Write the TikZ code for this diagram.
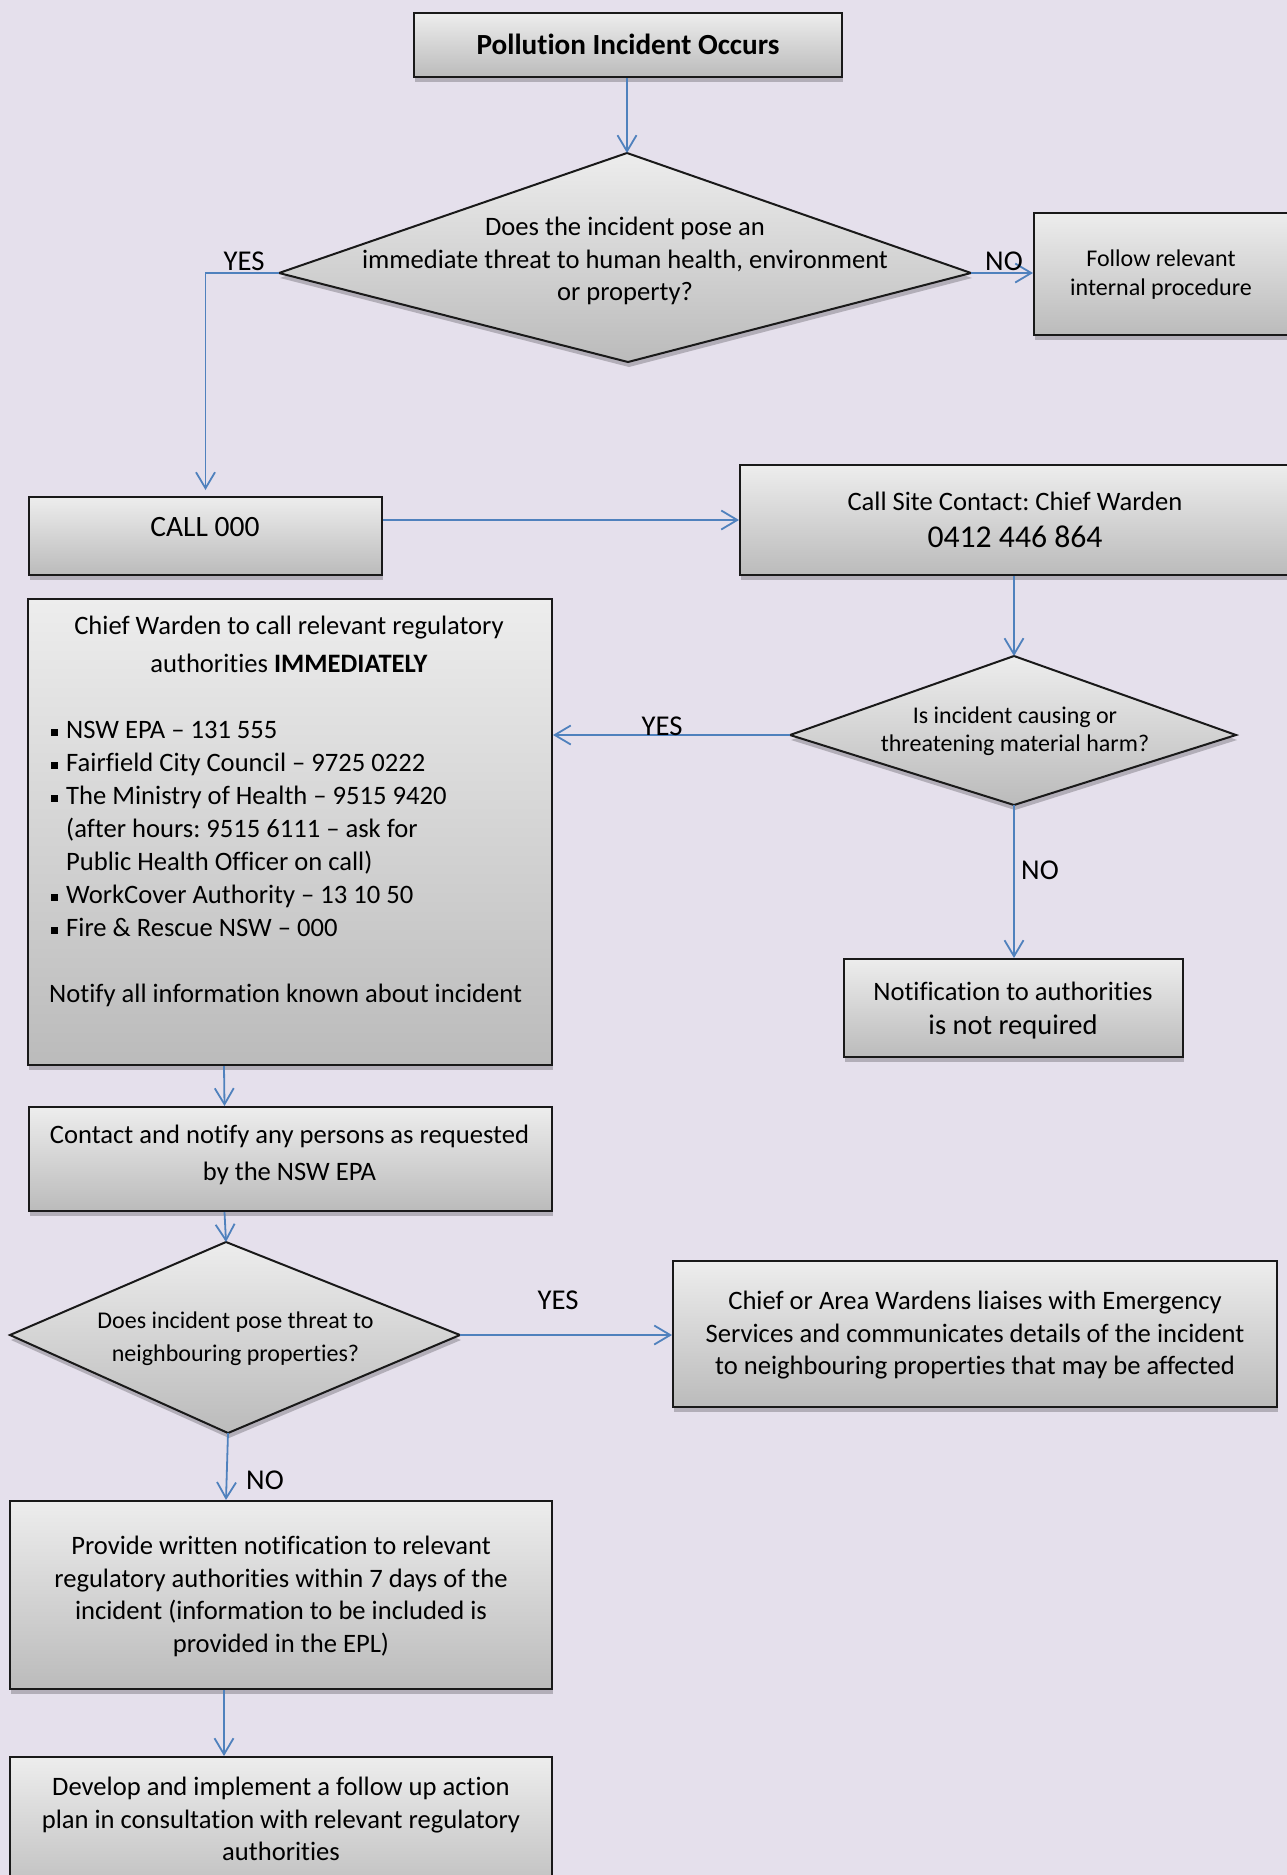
\documentclass[tikz,border=0pt]{standalone}
\usepackage{fontspec}
\setmainfont{Carlito}[Ligatures={NoCommon}]
\usetikzlibrary{arrows.meta,shadows}
\definecolor{bg}{HTML}{E5E0EC}
\definecolor{arrowblue}{HTML}{4F81BD}
\definecolor{gtop}{HTML}{EDEDED}
\definecolor{gbot}{HTML}{BBBBBB}
\newcommand\fs[2]{\fontsize{#1pt}{#2pt}\selectfont}
\newcommand\bul{\makebox[17pt][l]{\hspace{1.5pt}\raisebox{3pt}{\rule{7pt}{7pt}}}}
\newcommand\ind{\hspace*{17pt}}
\frenchspacing
\begin{document}
\begin{tikzpicture}[x=1pt,y=-1pt,
  box/.style={draw=black!90, line width=2pt, top color=gtop, bottom color=gbot,
    drop shadow={shadow xshift=1pt, shadow yshift=-5pt, opacity=0.22, fill=black}, inner sep=0pt},
  dia/.style={draw=black!90, line width=2pt, line join=miter, top color=gtop, bottom color=gbot,
    drop shadow={shadow xshift=1pt, shadow yshift=-5pt, opacity=0.22, fill=black}},
  txt/.style={inner sep=0pt, align=center, font=\fs{26.6}{32.5}},
  lab/.style={inner sep=0pt, font=\fs{28.7}{34}},
  arr/.style={draw=arrowblue, line width=1.8pt, -{Straight Barb[length=16pt,width=19pt]}},
]
\path[use as bounding box, fill=bg] (0,0) rectangle (1287,1875);
\clip (0,0) rectangle (1287,1875);

% top box
\node[box, minimum width=428pt, minimum height=64pt] (top) at (628,45) {};
\node[txt, font=\bfseries\fs{29.2}{35}] (topt) at (628,44) {Pollution Incident Occurs};

% diamond 1
\coordinate (d1n) at (627,153);
\coordinate (d1e) at (971,273);
\coordinate (d1s) at (628,362);
\coordinate (d1w) at (279,273);
\path[dia] (d1n) -- (d1e) -- (d1s) -- (d1w) -- cycle;
\node[txt] (d1t) at (625,261) {Does the incident pose an\\immediate threat to human health, environment\\or property?};

% follow box
\node[box, minimum width=261pt, minimum height=122pt] (follow) at (1164.5,274) {};
\node[txt, font=\fs{24}{29}] (followt) at (1161,274.5) {Follow relevant\\internal procedure};

% call 000
\node[box, minimum width=353pt, minimum height=78pt] (call) at (205.5,536) {};
\node[txt, font=\fs{29.5}{36}] (callt) at (205,527) {CALL 000};

% site contact
\node[box, minimum width=555pt, minimum height=110pt] (site) at (1017.5,520) {};
\node[txt] (sitet1) at (1015,501.5) {Call Site Contact: Chief Warden};
\node[txt, font=\fs{31.7}{38}] (sitet2) at (1015,537) {0412 446 864};

% chief warden box
\node[box, minimum width=524pt, minimum height=466pt] (chief) at (290,832) {};
\node[txt, font=\fs{26.6}{38}] (chieft) at (289,644) {Chief Warden to call relevant regulatory\\authorities \textbf{IMMEDIATELY}};
\node[txt, align=left, anchor=west, font=\fs{26.6}{33}] (chiefl) at (49,829) {%
\bul NSW EPA – 131 555\\
\bul Fairfield City Council – 9725 0222\\
\bul The Ministry of Health – 9515 9420\\
\ind (after hours: 9515 6111 – ask for\\
\ind Public Health Officer on call)\\
\bul WorkCover Authority – 13 10 50\\
\bul Fire \& Rescue NSW – 000};
\node[txt, anchor=west] (chiefn) at (49,995) {Notify all information known about incident};

% diamond 2
\coordinate (d2n) at (1014,656);
\coordinate (d2e) at (1236,735);
\coordinate (d2s) at (1014,805);
\coordinate (d2w) at (790,735);
\path[dia] (d2n) -- (d2e) -- (d2s) -- (d2w) -- cycle;
\node[txt, font=\fs{24}{28}] (d2t) at (1015,731) {Is incident causing or\\threatening material harm?};

% notification box
\node[box, minimum width=339pt, minimum height=98pt] (notif) at (1013.5,1008) {};
\node[txt] (notift1) at (1013,991.5) {Notification to authorities};
\node[txt, font=\fs{28.5}{34}] (notift2) at (1013,1027) {is not required};

% contact box
\node[box, minimum width=523pt, minimum height=104pt] (contact) at (290.5,1159) {};
\node[txt, font=\fs{26.6}{37}] (contactt) at (289.5,1154.5) {Contact and notify any persons as requested\\by the NSW EPA};

% diamond 3
\coordinate (d3n) at (226,1242);
\coordinate (d3e) at (460,1335);
\coordinate (d3s) at (228,1433);
\coordinate (d3w) at (10,1335);
\path[dia] (d3n) -- (d3e) -- (d3s) -- (d3w) -- cycle;
\node[txt, font=\fs{24}{33}] (d3t) at (235.5,1338.5) {Does incident pose threat to\\neighbouring properties?};

% area box
\node[box, minimum width=604pt, minimum height=146pt] (area) at (975,1334) {};
\node[txt] (areat) at (975,1335.5) {Chief or Area Wardens liaises with Emergency\\Services and communicates details of the incident\\to neighbouring properties that may be affected};

% provide box
\node[box, minimum width=542pt, minimum height=188pt] (provide) at (281,1595) {};
\node[txt] (providet) at (281,1596.5) {Provide written notification to relevant\\regulatory authorities within 7 days of the\\incident (information to be included is\\provided in the EPL)};

% develop box
\node[box, minimum width=542pt, minimum height=148pt] (develop) at (281,1831) {};
\node[txt] (developt) at (281,1819) {Develop and implement a follow up action\\plan in consultation with relevant regulatory\\authorities};

% connectors
\draw[arr] (top.south -| d1n) -- (d1n);
\draw[arr, shorten >=6pt] (d1w) -| (call.north);
\draw[arr] (d1e) -- (d1e -| follow.west);
\draw[arr] (call.east |- site.west) -- (site.west);
\draw[arr] (site.south -| d2n) -- (d2n);
\draw[arr] (d2w) -- (d2w -| chief.east);
\draw[arr] (d2s) -- (d2s |- notif.north);
\draw[arr] ([xshift=-66pt]chief.south) -- ([xshift=-66pt]contact.north);
\draw[arr] ([xshift=-66pt]contact.south) -- (d3n);
\draw[arr] (d3e) -- (d3e -| area.west);
\draw[arr] (d3s) -- ([xshift=-55pt]provide.north);
\draw[arr] ([xshift=-57pt]provide.south) -- ([xshift=-57pt]develop.north);

% labels
\node[lab] (yes1) at (244,261.5) {YES};
\node[lab] (no1) at (1004,261.5) {NO};
\node[lab] (yes2) at (662,726) {YES};
\node[lab] (no2) at (1040,870) {NO};
\node[lab] (yes3) at (558,1300) {YES};
\node[lab] (no3) at (265,1480) {NO};
\end{tikzpicture}
\end{document}
